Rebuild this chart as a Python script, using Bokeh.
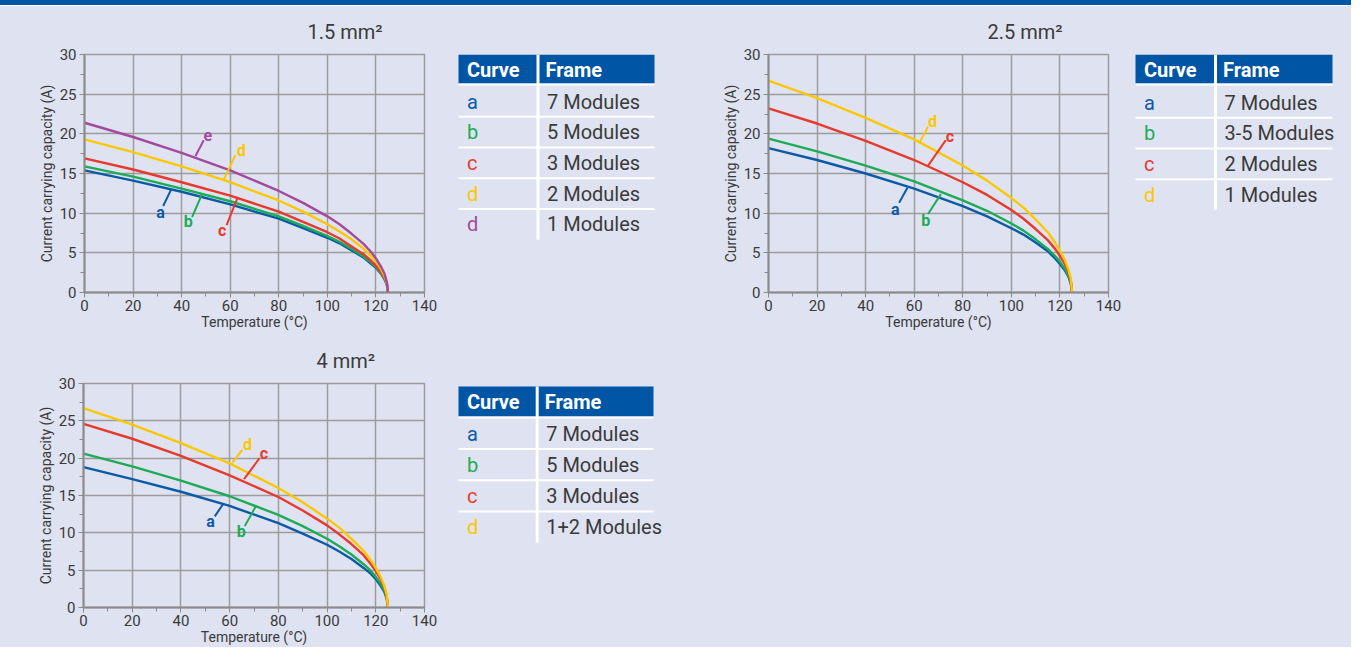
from bokeh.plotting import figure
from bokeh.layouts import column, row
from bokeh.models import Range1d, SingleIntervalTicker
from bokeh.core.properties import value
from bokeh.embed import file_html
from bokeh.resources import INLINE

# ---------------- data ----------------
temps = [0, 20, 40, 60, 80, 90, 100, 105, 110, 115, 118, 120, 122, 123.5, 124.5, 125]

# 1.5 mm2
s15_a = [15.4, 14.1, 12.7, 11.1, 9.3, 8.1, 6.9, 6.2, 5.3, 4.4, 3.6, 3.1, 2.4, 1.7, 1.0, 0]
s15_b = [15.9, 14.6, 13.1, 11.5, 9.6, 8.4, 7.1, 6.4, 5.5, 4.5, 3.8, 3.2, 2.5, 1.7, 1.0, 0]
s15_c = [16.9, 15.5, 13.9, 12.2, 10.2, 8.9, 7.6, 6.8, 5.8, 4.8, 4.0, 3.4, 2.6, 1.9, 1.1, 0]
s15_d = [19.3, 17.7, 15.9, 13.9, 11.6, 10.2, 8.6, 7.7, 6.7, 5.5, 4.6, 3.9, 3.0, 2.1, 1.2, 0]
s15_e = [21.4, 19.6, 17.6, 15.4, 12.8, 11.3, 9.6, 8.6, 7.4, 6.1, 5.1, 4.3, 3.3, 2.4, 1.3, 0]

# 2.5 mm2
s25_a = [18.2, 16.7, 15.0, 13.1, 10.9, 9.6, 8.1, 7.3, 6.3, 5.2, 4.3, 3.6, 2.8, 2.0, 1.1, 0]
s25_b = [19.4, 17.8, 16.0, 14.0, 11.6, 10.3, 8.7, 7.8, 6.7, 5.5, 4.6, 3.9, 3.0, 2.1, 1.2, 0]
s25_c = [23.2, 21.3, 19.1, 16.7, 13.9, 12.3, 10.4, 9.3, 8.0, 6.6, 5.5, 4.6, 3.6, 2.6, 1.5, 0]
s25_d = [26.7, 24.5, 22.0, 19.3, 16.0, 14.1, 11.9, 10.7, 9.2, 7.6, 6.3, 5.3, 4.1, 2.9, 1.7, 0]

# 4 mm2
s4_a = [18.8, 17.2, 15.5, 13.6, 11.3, 9.9, 8.4, 7.5, 6.5, 5.3, 4.5, 3.8, 2.9, 2.1, 1.2, 0]
s4_b = [20.6, 18.9, 17.0, 14.9, 12.4, 10.9, 9.2, 8.2, 7.1, 5.8, 4.9, 4.1, 3.2, 2.3, 1.3, 0]
s4_c = [24.6, 22.6, 20.3, 17.7, 14.8, 13.0, 11.0, 9.8, 8.5, 7.0, 5.8, 4.9, 3.8, 2.7, 1.5, 0]
s4_d = [26.7, 24.5, 22.0, 19.3, 16.0, 14.1, 11.9, 10.7, 9.2, 7.6, 6.3, 5.3, 4.1, 2.9, 1.7, 0]

# curve label positions (text) and leader lines (label end -> curve end)
lab15 = ["a", "b", "c", "d", "e"]
lab15_x = [31.3, 42.7, 56.7, 64.5, 50.8]
lab15_y = [10.1, 8.9, 7.85, 17.9, 19.8]
lead15_x0 = [32.4, 44.3, 58.5, 62.1, 49.1]
lead15_y0 = [10.9, 9.5, 8.5, 17.3, 19.2]
lead15_x1 = [35.7, 48.4, 63.1, 57.3, 45.7]
lead15_y1 = [13.0, 12.4, 12.0, 14.2, 17.2]

lab25 = ["a", "b", "c", "d"]
lab25_x = [52.2, 64.8, 74.7, 67.5]
lab25_y = [10.5, 9.1, 19.7, 21.6]
lead25_x0 = [53.8, 65.7, 73.0, 65.7]
lead25_y0 = [11.3, 9.9, 19.2, 20.9]
lead25_x1 = [57.2, 71.0, 65.5, 62.0]
lead25_y1 = [13.2, 12.4, 15.9, 18.8]

lab4 = ["a", "b", "c", "d"]
lab4_x = [52.2, 64.8, 74.1, 67.3]
lab4_y = [11.5, 10.2, 20.6, 21.8]
lead4_x0 = [53.9, 66.2, 72.3, 65.2]
lead4_y0 = [12.2, 10.9, 20.0, 21.1]
lead4_x1 = [57.4, 71.0, 65.9, 61.1]
lead4_y1 = [13.9, 13.7, 17.2, 19.4]

# tables
tab15_curve = ["a", "b", "c", "d", "d"]
tab15_key = ["a", "b", "c", "d", "e"]
tab15_frame = ["7 Modules", "5 Modules", "3 Modules", "2 Modules", "1 Modules"]
tab25_curve = ["a", "b", "c", "d"]
tab25_key = ["a", "b", "c", "d"]
tab25_frame = ["7 Modules", "3-5 Modules", "2 Modules", "1 Modules"]
tab4_curve = ["a", "b", "c", "d"]
tab4_key = ["a", "b", "c", "d"]
tab4_frame = ["7 Modules", "5 Modules", "3 Modules", "1+2 Modules"]

# ---------------- style ----------------
BG = "#dfe3f1"
HEAD = "#0055a4"
FONT = "Roboto"
TXT = "#3a3a3a"
GRIDC = "#9c9c9c"
AXC = "#8a8a8a"
COL = {"a": "#0b5aa6", "b": "#1cab57", "c": "#e8392d", "d": "#fcc700", "e": "#a24a9d"}
BGSTYLE = {"background-color": BG}


def chart(title, toff, series, keys, labs, lx, ly, x0, y0, x1, y1,
          width, height, bl, br, bt, bb):
    p = figure(width=width, height=height, x_range=Range1d(0, 140), y_range=Range1d(0, 30),
               output_backend="svg", toolbar_location=None,
               min_border_left=bl, min_border_right=br, min_border_top=bt, min_border_bottom=bb,
               background_fill_color=BG, border_fill_color=BG,
               outline_line_color=GRIDC, outline_line_width=1.5, styles=BGSTYLE)
    p.title.text = title
    p.title.align = "left"
    p.title.offset = toff
    p.title.standoff = 22
    p.title.text_font = FONT
    p.title.text_font_size = "20px"
    p.title.text_font_style = "normal"
    p.title.text_color = TXT
    p.xaxis.ticker = SingleIntervalTicker(interval=20, num_minor_ticks=2)
    p.yaxis.ticker = SingleIntervalTicker(interval=5, num_minor_ticks=2)
    p.grid.grid_line_color = GRIDC
    p.grid.grid_line_width = 1.5
    for ax in (p.xaxis, p.yaxis):
        ax.axis_line_color = AXC
        ax.axis_line_width = 2
        ax.major_tick_line_color = AXC
        ax.minor_tick_line_color = AXC
        ax.major_tick_out = 5
        ax.major_tick_in = 0
        ax.minor_tick_out = 4
        ax.minor_tick_in = 0
        ax.major_label_text_font = FONT
        ax.major_label_text_font_size = "15px"
        ax.major_label_text_color = TXT
        ax.axis_label_text_font = FONT
        ax.axis_label_text_font_size = "14px"
        ax.axis_label_text_font_style = "normal"
        ax.axis_label_text_color = TXT
    p.xaxis.axis_label = "Temperature (°C)"
    p.yaxis.axis_label = "Current carrying capacity (A)"
    p.xaxis.major_label_standoff = 2
    p.xaxis.axis_label_standoff = 0
    p.yaxis.major_label_standoff = 3
    p.yaxis.axis_label_standoff = 2

    for k, ys in zip(keys, series):
        p.line(temps, ys, line_color=COL[k], line_width=2.4)
    p.segment(x0=x0, y0=y0, x1=x1, y1=y1, line_color=[COL[k] for k in labs], line_width=2)
    p.text(x=lx, y=ly, text=labs, text_color=[COL[k] for k in labs],
           text_font=value(FONT), text_font_style="bold", text_font_size="16px",
           text_align="center", text_baseline="middle")
    return p


def table(width, height, xr0, yr0, bt, bb, xl, xd, xr, top, hh, first, pitch, curves, keys, frames):
    # the frame of this figure spans page pixels (xr0 .. xr0+width) x (yr0+bt .. yr0+height-bb)
    p = figure(width=width, height=height, x_range=Range1d(xr0, xr0 + width),
               y_range=Range1d(yr0 + height - bb, yr0 + bt), x_axis_type=None, y_axis_type=None,
               output_backend="svg", toolbar_location=None,
               min_border_left=0, min_border_right=0, min_border_top=bt, min_border_bottom=bb,
               background_fill_color=BG, border_fill_color=BG, outline_line_color=None,
               styles=BGSTYLE)
    n = len(curves)
    centers = [first + pitch * i for i in range(n)]
    p.quad(left=[xl], right=[xr], top=[top], bottom=[top + hh], fill_color=HEAD, line_color=None)
    seps = [top + hh + 1] + [c + pitch / 2 for c in centers[:-1]]
    p.segment(x0=[xl] * len(seps), x1=[xr] * len(seps), y0=seps, y1=seps,
              line_color="white", line_width=2)
    p.segment(x0=[xd], x1=[xd], y0=[top], y1=[centers[-1] + pitch / 2],
              line_color="white", line_width=3)
    p.text(x=[xl + 8.5, xd + 7.5], y=[top + hh / 2 + 0.5] * 2, text=["Curve", "Frame"],
           text_color="white", text_font=value(FONT), text_font_style="bold",
           text_font_size="20px", text_baseline="middle", text_align="left")
    p.text(x=[xl + 8.5] * n, y=centers, text=curves, text_color=[COL[k] for k in keys],
           text_font=value(FONT), text_font_size="20px", text_baseline="middle", text_align="left")
    p.text(x=[xd + 9] * n, y=centers, text=frames, text_color=TXT,
           text_font=value(FONT), text_font_size="20px", text_baseline="middle", text_align="left")
    return p


# top bar (blue band with a thin white line under it)
bar = figure(width=1351, height=6, x_range=Range1d(0, 1), y_range=Range1d(0, 6),
             x_axis_type=None, y_axis_type=None, output_backend="svg", toolbar_location=None,
             min_border=0, background_fill_color=HEAD, border_fill_color=HEAD,
             outline_line_color=None,
             styles={"background": "linear-gradient(to bottom, #0055a4 0px, #0055a4 5px, #ffffff 5px, #ffffff 6px)"})
bar.quad(left=[0], right=[1], bottom=[1], top=[6], fill_color=HEAD, line_color=None)

# row 1 spans y 6..334, row 2 spans y 334..647
c1 = chart("1.5 mm²", 223, [s15_a, s15_b, s15_c, s15_d, s15_e], ["a", "b", "c", "d", "e"],
           lab15, lab15_x, lab15_y, lead15_x0, lead15_y0, lead15_x1, lead15_y1,
           440, 328, 84, 16, 48, 42)
t1 = table(260, 328, 440, 6, 48, 42, 458, 537.5, 654, 54, 29, 101, 30.7,
           tab15_curve, tab15_key, tab15_frame)
c2 = chart("2.5 mm²", 219, [s25_a, s25_b, s25_c, s25_d], ["a", "b", "c", "d"],
           lab25, lab25_x, lab25_y, lead25_x0, lead25_y0, lead25_x1, lead25_y1,
           424, 328, 68, 16, 48, 42)
t2 = table(227, 328, 1124, 6, 48, 42, 1135, 1215, 1332, 54, 29, 102, 30.7,
           tab25_curve, tab25_key, tab25_frame)
c3 = chart("4 mm²", 233, [s4_a, s4_b, s4_c, s4_d], ["a", "b", "c", "d"],
           lab4, lab4_x, lab4_y, lead4_x0, lead4_y0, lead4_x1, lead4_y1,
           440, 313, 83, 16, 49, 40)
t3 = table(911, 313, 440, 334, 49, 40, 458, 536.7, 653, 386, 30, 433, 31.2,
           tab4_curve, tab4_key, tab4_frame)

layout = column(bar, row(c1, t1, c2, t2, styles=BGSTYLE), row(c3, t3, styles=BGSTYLE), styles=BGSTYLE)

open("out.html", "w").write(file_html(layout, INLINE))
